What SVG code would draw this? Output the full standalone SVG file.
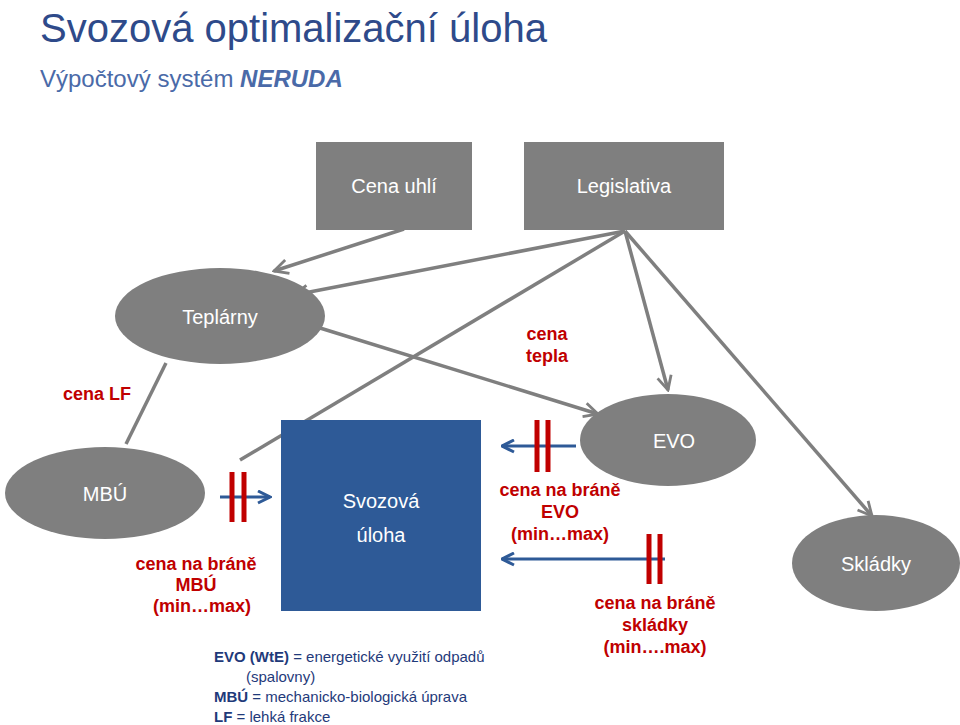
<svg xmlns="http://www.w3.org/2000/svg" width="960" height="725" viewBox="0 0 960 725">
<defs>
<style>
text{font-family:"Liberation Sans",Arial,sans-serif}
.n{fill:#7f7f7f}
.nt{fill:#fff;font-size:20px;text-anchor:middle}
.c{stroke:#7f7f7f;stroke-width:3.5;fill:none}
.b{stroke:#2e5a97;stroke-width:3;fill:none}
.r{stroke:#c00000;stroke-width:5}
.lab{fill:#c00000;font-size:18px;font-weight:bold;text-anchor:middle}
.leg{fill:#1f3a7a;font-size:15px}
</style>
<marker id="ga" viewBox="0 0 10 10" refX="9" refY="5" markerWidth="5" markerHeight="5" orient="auto"><path d="M1,1 L9,5 L1,9" fill="none" stroke="#7f7f7f" stroke-width="1.6"/></marker>
<marker id="ba" viewBox="0 0 10 10" refX="9" refY="5" markerWidth="5" markerHeight="5" orient="auto"><path d="M1,1 L9,5 L1,9" fill="none" stroke="#2e5a97" stroke-width="2"/></marker>
</defs>
<rect width="960" height="725" fill="#fff"/>
<text x="40" y="42" font-size="40" fill="#2e4a8a">Svozová optimalizační úloha</text>
<text x="40" y="87" font-size="24" fill="#4a6aa8">Výpočtový systém <tspan font-weight="bold" font-style="italic">NERUDA</tspan></text>

<g id="connectors">
<line class="c" x1="404" y1="229" x2="274" y2="271" marker-end="url(#ga)"/>
<line class="c" x1="625" y1="231" x2="294" y2="295" marker-end="url(#ga)"/>
<line class="c" x1="625" y1="231" x2="240" y2="460"/>
<line class="c" x1="625" y1="231" x2="668" y2="390" marker-end="url(#ga)"/>
<line class="c" x1="625" y1="231" x2="872" y2="516" marker-end="url(#ga)"/>
<line class="c" x1="320" y1="328" x2="598" y2="414" marker-end="url(#ga)"/>
<line class="c" x1="166" y1="363" x2="126" y2="444"/>
<line class="b" x1="220" y1="497" x2="270" y2="497" marker-end="url(#ba)"/>
<line class="r" x1="232" y1="472" x2="232" y2="522"/><line class="r" x1="244" y1="472" x2="244" y2="522"/>
<line class="b" x1="576" y1="446" x2="502" y2="446" marker-end="url(#ba)"/>
<line class="r" x1="537" y1="420" x2="537" y2="472"/><line class="r" x1="548" y1="420" x2="548" y2="472"/>
<line class="b" x1="665" y1="559" x2="502" y2="559" marker-end="url(#ba)"/>
<line class="r" x1="649" y1="534" x2="649" y2="584"/><line class="r" x1="660" y1="534" x2="660" y2="584"/>
</g>

<g id="cena-uhli"><rect class="n" x="316" y="142" width="156" height="88"/><text class="nt" x="394" y="193">Cena uhlí</text></g>
<g id="legislativa"><rect class="n" x="524" y="142" width="200" height="88"/><text class="nt" x="624" y="193">Legislativa</text></g>
<g id="teplarny"><ellipse class="n" cx="220" cy="316" rx="105" ry="48"/><text class="nt" x="220" y="324">Teplárny</text></g>
<g id="mbu"><ellipse class="n" cx="105" cy="493" rx="100" ry="46"/><text class="nt" x="105" y="501">MBÚ</text></g>
<g id="evo"><ellipse class="n" cx="668" cy="440" rx="88" ry="46"/><text class="nt" x="674" y="448">EVO</text></g>
<g id="skladky"><ellipse class="n" cx="876" cy="563" rx="84" ry="48"/><text class="nt" x="876" y="571">Skládky</text></g>
<g id="svozova"><rect x="281" y="420" width="200" height="191" fill="#2e5a97"/><text class="nt" x="381" y="508" font-size="27">Svozová</text><text class="nt" x="381" y="542" font-size="27">úloha</text></g>

<g id="labels">
<text class="lab" x="547" y="340">cena</text><text class="lab" x="547" y="362">tepla</text>
<text class="lab" x="97" y="400">cena LF</text>
<text class="lab" x="196" y="570">cena na bráně</text><text class="lab" x="196" y="591">MBÚ</text><text class="lab" x="202" y="612">(min…max)</text>
<text class="lab" x="560" y="496">cena na bráně</text><text class="lab" x="560" y="518">EVO</text><text class="lab" x="560" y="540">(min…max)</text>
<text class="lab" x="655" y="609">cena na bráně</text><text class="lab" x="655" y="631">skládky</text><text class="lab" x="655" y="653">(min….max)</text>
</g>
<g id="legend">
<text class="leg" x="214" y="662"><tspan font-weight="bold">EVO (WtE)</tspan> = energetické využití odpadů</text>
<text class="leg" x="246" y="682">(spalovny)</text>
<text class="leg" x="214" y="702"><tspan font-weight="bold">MBÚ</tspan> = mechanicko-biologická úprava</text>
<text class="leg" x="214" y="722"><tspan font-weight="bold">LF</tspan> = lehká frakce</text>
</g>
</svg>
